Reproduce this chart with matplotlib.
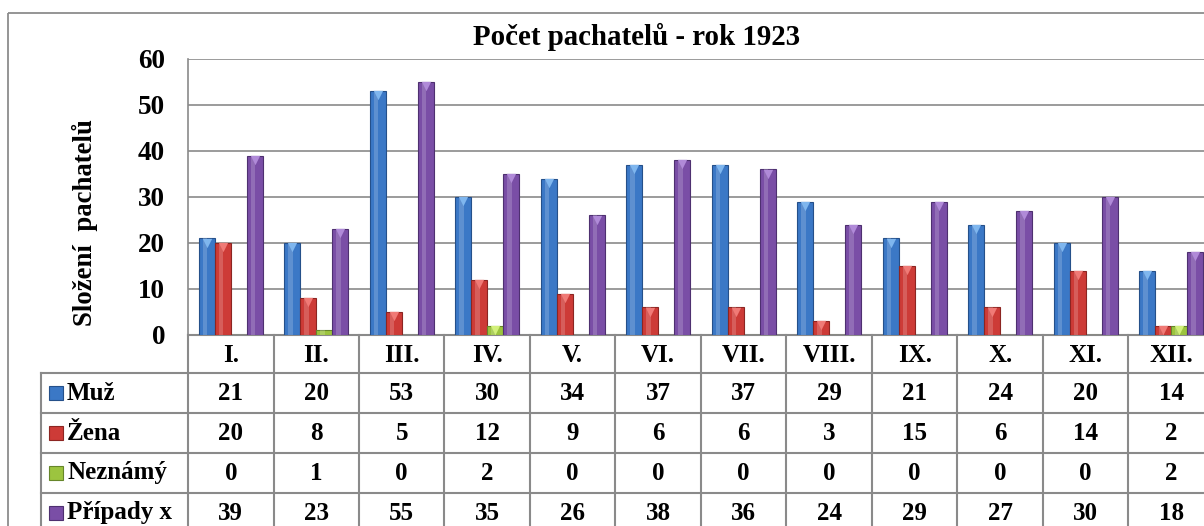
import numpy as np
import matplotlib.pyplot as plt
from matplotlib.transforms import blended_transform_factory
from matplotlib.patches import Rectangle

# data
months = ['I.', 'II.', 'III.', 'IV.', 'V.', 'VI.', 'VII.', 'VIII.', 'IX.', 'X.', 'XI.', 'XII.']
series_names = ['Muž', 'Žena', 'Neznámý', 'Případy x']
muz = [21, 20, 53, 30, 34, 37, 37, 29, 21, 24, 20, 14]
zena = [20, 8, 5, 12, 9, 6, 6, 3, 15, 6, 14, 2]
neznamy = [0, 1, 0, 2, 0, 0, 0, 0, 0, 0, 0, 2]
pripady = [39, 23, 55, 35, 26, 38, 36, 24, 29, 27, 30, 18]
yticks = [0, 10, 20, 30, 40, 50, 60]

colors = ['#3b78c6', '#cd3b37', '#9cc43f', '#7a4ea6']
edges = ['#25508a', '#8c2522', '#66862a', '#4e3070']
caps = ['#7fb6ee', '#f07a76', '#d2f07a', '#b08ad8']

plt.rcParams['font.family'] = ['Liberation Serif', 'DejaVu Serif']
plt.rcParams['font.weight'] = 'bold'

W, H = 1204, 526
fig = plt.figure(figsize=(W / 100, H / 100), dpi=100)

# overlay in pixel coords (y downwards) for frame + table
tab = fig.add_axes([0, 0, 1, 1])
tab.set_xlim(0, W)
tab.set_ylim(H, 0)
tab.axis('off')

# plot area: x 188..1214 px, y 59..335 px
ax = fig.add_axes([188 / W, (H - 335) / H, 1026 / W, 276 / H])
ax.set_xlim(-0.5, len(months) - 0.5)
ax.set_ylim(0, 60)
ax.set_yticks(yticks)
ax.set_yticklabels([str(t) for t in yticks], fontsize=19.5, fontweight='bold')
ax.tick_params(axis='y', length=0, pad=16.5)
ax.set_xticks([])
ax.grid(axis='y', color='#8a8a8a', linewidth=1.2)
ax.set_axisbelow(True)
for s in ['top', 'right', 'bottom']:
    ax.spines[s].set_visible(False)
ax.spines['left'].set_color('#8a8a8a')
ax.spines['left'].set_linewidth(1.2)
ax.patch.set_alpha(0)

x = np.arange(len(months))
bw = 0.1875
all_series = [muz, zena, neznamy, pripady]
for k, vals in enumerate(all_series):
    xs = x + (k - 1.5) * bw
    vals = np.array(vals)
    ax.bar(xs, vals, bw, color=colors[k], edgecolor=edges[k], linewidth=0.8, zorder=3)
    # highlight strip for the glossy look
    ax.bar(xs - bw * 0.12, vals, bw * 0.28, color='white', alpha=0.18, linewidth=0, zorder=4)
    nz = vals > 1
    ax.scatter(xs[nz], vals[nz] - 0.9, marker='v', s=45, color=caps[k], linewidths=0, zorder=5)

fig.text(85 / W, 1 - 223 / H, 'Složení  pachatelů', rotation=90, ha='center', va='center',
         fontsize=19.3, fontweight='bold')

fig.text(637 / W, 1 - 37 / H, 'Počet pachatelů - rok 1923', ha='center', va='center',
         fontsize=20.8, fontweight='bold')

# outer chart frame
tab.add_patch(Rectangle((8, 13), W, H, fill=False, edgecolor='#8c8c8c', linewidth=1.3))

# data table below the plot
bt = blended_transform_factory(ax.transData, tab.transData)
gc = '#8a8a8a'
row_edges = [335, 373, 413, 453, 493, 533]
for i in range(len(months) + 1):
    tab.plot([i - 0.5, i - 0.5], [335, H], color=gc, lw=1.5, transform=bt, clip_on=False)
tab.plot([41, 41], [373, H], color=gc, lw=1.5)
tab.plot([188, W], [335, 335], color=gc, lw=1.5)
for y in row_edges[1:-1]:
    tab.plot([41, W], [y, y], color=gc, lw=1.5)

for i, m in enumerate(months):
    tab.text(i, 355, m, transform=bt, ha='center', va='center', fontsize=18, fontweight='bold')
for r, (name, vals) in enumerate(zip(series_names, all_series)):
    yc = (row_edges[r + 1] + row_edges[r + 2]) / 2
    tab.add_patch(Rectangle((49, yc - 7), 14, 14, facecolor=colors[r], edgecolor=edges[r], lw=0.8))
    tab.text(67, yc, name, ha='left', va='center', fontsize=18, fontweight='bold')
    for i, v in enumerate(vals):
        tab.text(i, yc, str(v), transform=bt, ha='center', va='center', fontsize=18, fontweight='bold')

fig.savefig('out.png', dpi=100)
